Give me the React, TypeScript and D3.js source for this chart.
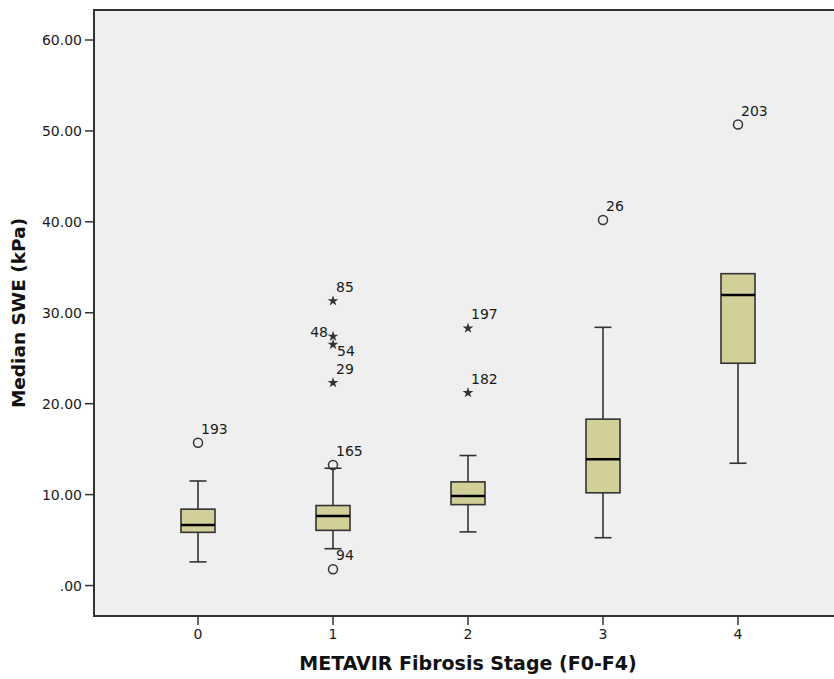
import React, { useEffect, useRef } from "react";
import * as d3 from "d3";

const width = 834;
const height = 679;
const plot = { left: 94, top: 10, right: 842, bottom: 616 };

const stages = ["0", "1", "2", "3", "4"];
const whiskerLow = [2.6, 4.05, 5.9, 5.26, 13.45];
const q1 = [5.85, 6.07, 8.9, 10.2, 24.45];
const median = [6.65, 7.65, 9.85, 13.88, 31.95];
const q3 = [8.4, 8.8, 11.4, 18.3, 34.3];
const whiskerHigh = [11.5, 12.9, 14.3, 28.4, 34.3];

// outliers: stage, value, case id, kind (o = outlier, * = extreme), label side
const outStage = ["0", "1", "1", "1", "1", "1", "1", "2", "2", "3", "4"];
const outValue = [15.7, 13.25, 1.8, 31.3, 27.4, 26.5, 22.3, 28.3, 21.2, 40.2, 50.7];
const outId = ["193", "165", "94", "85", "48", "54", "29", "197", "182", "26", "203"];
const outKind = ["o", "o", "o", "*", "*", "*", "*", "*", "*", "o", "o"];
const outSide = ["up", "up", "up", "up", "left", "down", "up", "up", "up", "up", "up"];

const yTicks = [0, 10, 20, 30, 40, 50, 60];

const font = "'DejaVu Sans', Verdana, sans-serif";

export default function App() {
  const ref = useRef<SVGSVGElement>(null);

  useEffect(() => {
    const svg = d3.select(ref.current);
    svg.selectAll("*").remove();

    const x = d3.scalePoint<string>().domain(stages).range([198, 738]);
    const y = d3.scaleLinear().domain([-3.35, 63.3]).range([plot.bottom, plot.top]);

    const boxW = 34;
    const capW = 17;

    svg
      .append("rect")
      .attr("x", plot.left)
      .attr("y", plot.top)
      .attr("width", plot.right - plot.left)
      .attr("height", plot.bottom - plot.top)
      .attr("fill", "#efefef")
      .attr("stroke", "#333")
      .attr("stroke-width", 2);

    // y axis
    const yAxis = svg.append("g").attr("font-family", font).attr("font-size", 14);
    yAxis
      .selectAll("line")
      .data(yTicks)
      .join("line")
      .attr("x1", plot.left - 9)
      .attr("x2", plot.left)
      .attr("y1", d => y(d))
      .attr("y2", d => y(d))
      .attr("stroke", "#333")
      .attr("stroke-width", 1.5);
    yAxis
      .selectAll("text")
      .data(yTicks)
      .join("text")
      .attr("x", plot.left - 12)
      .attr("y", d => y(d))
      .attr("dy", "0.36em")
      .attr("text-anchor", "end")
      .attr("fill", "#1a1a1a")
      .text(d => (d === 0 ? ".00" : d.toFixed(2)));

    // x axis
    const xAxis = svg.append("g").attr("font-family", font).attr("font-size", 14);
    xAxis
      .selectAll("line")
      .data(stages)
      .join("line")
      .attr("x1", d => x(d)!)
      .attr("x2", d => x(d)!)
      .attr("y1", plot.bottom)
      .attr("y2", plot.bottom + 9)
      .attr("stroke", "#333")
      .attr("stroke-width", 1.5);
    xAxis
      .selectAll("text")
      .data(stages)
      .join("text")
      .attr("x", d => x(d)!)
      .attr("y", 639)
      .attr("text-anchor", "middle")
      .attr("fill", "#1a1a1a")
      .text(d => d);

    // titles
    svg
      .append("text")
      .attr("x", (plot.left + plot.right) / 2)
      .attr("y", 670)
      .attr("text-anchor", "middle")
      .attr("font-family", font)
      .attr("font-weight", "bold")
      .attr("font-size", 19)
      .attr("fill", "#111")
      .text("METAVIR Fibrosis Stage (F0-F4)");
    svg
      .append("text")
      .attr("transform", `translate(25,${(plot.top + plot.bottom) / 2}) rotate(-90)`)
      .attr("text-anchor", "middle")
      .attr("font-family", font)
      .attr("font-weight", "bold")
      .attr("font-size", 18.5)
      .attr("fill", "#111")
      .text("Median SWE (kPa)");

    // boxes
    const boxes = stages.map((s, i) => ({
      s,
      lo: whiskerLow[i],
      q1: q1[i],
      med: median[i],
      q3: q3[i],
      hi: whiskerHigh[i],
    }));

    const g = svg.append("g").attr("stroke", "#333");
    const box = g.selectAll("g").data(boxes).join("g");

    box
      .append("line")
      .attr("x1", d => x(d.s)!)
      .attr("x2", d => x(d.s)!)
      .attr("y1", d => y(d.hi))
      .attr("y2", d => y(d.lo))
      .attr("stroke-width", 1.6);
    box
      .filter(d => d.hi > d.q3)
      .append("line")
      .attr("x1", d => x(d.s)! - capW / 2)
      .attr("x2", d => x(d.s)! + capW / 2)
      .attr("y1", d => y(d.hi))
      .attr("y2", d => y(d.hi))
      .attr("stroke-width", 1.6);
    box
      .append("line")
      .attr("x1", d => x(d.s)! - capW / 2)
      .attr("x2", d => x(d.s)! + capW / 2)
      .attr("y1", d => y(d.lo))
      .attr("y2", d => y(d.lo))
      .attr("stroke-width", 1.6);
    box
      .append("rect")
      .attr("x", d => x(d.s)! - boxW / 2)
      .attr("width", boxW)
      .attr("y", d => y(d.q3))
      .attr("height", d => y(d.q1) - y(d.q3))
      .attr("fill", "#d3cf98")
      .attr("stroke-width", 1.6);
    box
      .append("line")
      .attr("x1", d => x(d.s)! - boxW / 2)
      .attr("x2", d => x(d.s)! + boxW / 2)
      .attr("y1", d => y(d.med))
      .attr("y2", d => y(d.med))
      .attr("stroke", "#000")
      .attr("stroke-width", 2.5);

    // outliers
    const outs = outId.map((id, i) => ({
      id,
      s: outStage[i],
      v: outValue[i],
      kind: outKind[i],
      side: outSide[i],
    }));

    const og = svg.append("g");
    og.selectAll("circle")
      .data(outs.filter(d => d.kind === "o"))
      .join("circle")
      .attr("cx", d => x(d.s)!)
      .attr("cy", d => y(d.v))
      .attr("r", 4.5)
      .attr("fill", "none")
      .attr("stroke", "#333")
      .attr("stroke-width", 1.5);
    og.selectAll("path")
      .data(outs.filter(d => d.kind === "*"))
      .join("path")
      .attr("transform", d => `translate(${x(d.s)},${y(d.v)})`)
      .attr("d", d3.symbol(d3.symbolStar, 36)())
      .attr("fill", "#333");
    og.selectAll("text")
      .data(outs)
      .join("text")
      .attr("font-family", font)
      .attr("font-size", 14)
      .attr("fill", "#1a1a1a")
      .attr("text-anchor", d => (d.side === "left" ? "end" : "start"))
      .attr("x", d => x(d.s)! + (d.side === "left" ? -5 : d.side === "down" ? 4 : 3))
      .attr("y", d => y(d.v) + (d.side === "left" ? 1 : d.side === "down" ? 11 : -9))
      .text(d => d.id);
  }, []);

  return (
    <svg
      ref={ref}
      width={width}
      height={height}
      style={{ position: "absolute", left: 0, top: 0, background: "#fff" }}
    />
  );
}
